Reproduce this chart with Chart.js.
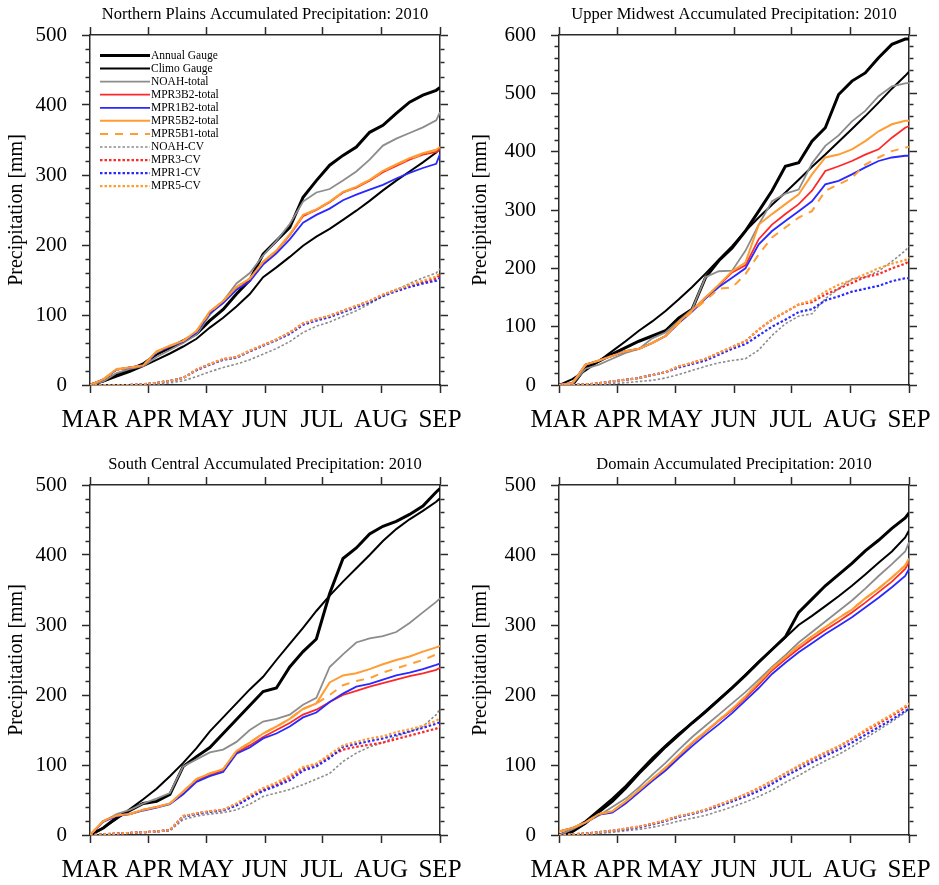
<!DOCTYPE html>
<html>
<head>
<meta charset="utf-8">
<script src="https://cdn.jsdelivr.net/npm/chart.js@4.4.0/dist/chart.umd.min.js"></script>
<style>
  body { margin: 0; background: #fff; width: 939px; height: 885px; position: relative; overflow: hidden; }
  canvas { position: absolute; }
</style>
</head>
<body>
<canvas id="np" width="469" height="435" style="left:0;top:0"></canvas>
<canvas id="um" width="469" height="435" style="left:469px;top:0"></canvas>
<canvas id="sc" width="469" height="435" style="left:0;top:450px"></canvas>
<canvas id="dm" width="469" height="435" style="left:469px;top:450px"></canvas>
<script>
// days since 1 March (weekly samples)
var days = [0, 7, 14, 21, 28, 35, 42, 49, 56, 63, 70, 77, 84, 91, 98, 105, 112, 119, 126, 133, 140, 147, 154, 161, 168, 175, 182, 184];
var monthDays = [0, 31, 61, 92, 122, 153, 184];
var monthLabels = ['MAR', 'APR', 'MAY', 'JUN', 'JUL', 'AUG', 'SEP'];
var seriesNames = ['Annual Gauge', 'Climo Gauge', 'NOAH-total', 'MPR3B2-total', 'MPR1B2-total', 'MPR5B2-total',
  'MPR5B1-total', 'NOAH-CV', 'MPR3-CV', 'MPR1-CV', 'MPR5-CV'];

// Northern Plains
var np_annual = [0, 6, 15, 22, 30, 44, 53, 63, 73, 92, 108, 130, 150, 187, 206, 225, 268, 292, 314, 328, 340, 361, 371, 388, 404, 414, 421, 425];
var np_climo = [0, 5, 12, 19, 27, 36, 45, 55, 66, 82, 96, 112, 130, 154, 168, 183, 199, 212, 223, 236, 249, 263, 278, 292, 305, 318, 332, 338];
var np_noah = [0, 5, 17, 23, 27, 40, 50, 60, 72, 100, 120, 145, 160, 185, 206, 230, 262, 275, 280, 292, 305, 322, 342, 352, 360, 368, 378, 390];
var np_mpr3b2 = [0, 8, 22, 25, 28, 47, 55, 62, 76, 104, 119, 139, 151, 175, 191, 214, 241, 250, 261, 275, 282, 292, 304, 313, 322, 329, 333, 337];
var np_mpr1b2 = [0, 8, 22, 25, 28, 46, 55, 62, 75, 102, 117, 136, 148, 172, 188, 208, 232, 243, 252, 264, 272, 279, 286, 295, 303, 310, 316, 330];
var np_mpr5b2 = [0, 8, 23, 25, 28, 48, 56, 63, 77, 105, 120, 140, 152, 176, 192, 215, 243, 251, 262, 276, 283, 293, 306, 315, 324, 331, 336, 340];
var np_mpr5b1 = [0, 8, 22, 25, 28, 47, 56, 63, 77, 104, 120, 140, 152, 176, 192, 214, 242, 251, 262, 275, 283, 293, 305, 315, 323, 330, 336, 339];
var np_noahcv = [0, 0, 0, 0, 0, 1, 3, 6, 12, 19, 25, 30, 36, 44, 52, 62, 75, 84, 90, 98, 106, 116, 127, 136, 145, 153, 160, 166];
var np_mpr3cv = [0, 0, 0, 0, 1, 3, 6, 10, 22, 30, 37, 40, 49, 57, 65, 75, 88, 94, 99, 106, 113, 120, 129, 136, 142, 147, 152, 158];
var np_mpr1cv = [0, 0, 0, 0, 1, 3, 6, 10, 21, 29, 36, 39, 48, 56, 64, 73, 86, 92, 97, 104, 111, 118, 127, 134, 140, 145, 149, 153];
var np_mpr5cv = [0, 0, 0, 0, 1, 3, 6, 10, 22, 30, 37, 40, 49, 57, 65, 75, 88, 94, 99, 106, 113, 120, 129, 136, 143, 149, 155, 160];

// Upper Midwest
var um_annual = [0, 0, 30, 41, 53, 64, 75, 84, 93, 115, 130, 184, 213, 235, 264, 298, 333, 375, 381, 418, 441, 498, 521, 535, 561, 584, 593, 593];
var um_climo = [0, 10, 25, 41, 58, 75, 93, 109, 127, 147, 168, 191, 215, 238, 264, 287, 309, 330, 352, 374, 395, 417, 439, 461, 484, 508, 530, 537];
var um_noah = [0, 2, 28, 35, 45, 55, 62, 80, 90, 110, 130, 185, 195, 196, 230, 275, 315, 328, 335, 380, 410, 428, 452, 470, 495, 512, 517, 518];
var um_mpr3b2 = [0, 3, 35, 42, 50, 58, 62, 72, 84, 108, 128, 150, 170, 193, 205, 250, 275, 293, 310, 333, 367, 375, 384, 395, 404, 424, 441, 444];
var um_mpr1b2 = [0, 3, 35, 42, 50, 58, 62, 72, 84, 106, 126, 148, 168, 184, 200, 241, 264, 281, 298, 315, 344, 350, 361, 373, 384, 390, 393, 393];
var um_mpr5b2 = [0, 3, 35, 42, 50, 58, 62, 72, 84, 108, 128, 150, 172, 195, 210, 275, 293, 310, 327, 361, 390, 395, 404, 418, 435, 447, 453, 453];
var um_mpr5b1 = [0, 3, 35, 42, 50, 58, 62, 72, 84, 106, 126, 145, 165, 167, 190, 224, 253, 270, 287, 298, 333, 344, 355, 378, 390, 401, 407, 408];
var um_noahcv = [0, 0, 0, 1, 2, 4, 6, 8, 12, 18, 25, 32, 38, 42, 45, 60, 85, 105, 118, 122, 148, 165, 182, 185, 195, 212, 230, 238];
var um_mpr3cv = [0, 0, 1, 3, 6, 9, 12, 17, 22, 32, 38, 45, 55, 65, 75, 95, 112, 125, 138, 142, 155, 165, 175, 185, 190, 200, 208, 212];
var um_mpr1cv = [0, 0, 1, 3, 6, 9, 12, 17, 22, 30, 36, 42, 52, 62, 70, 85, 100, 112, 125, 130, 145, 152, 160, 165, 170, 178, 183, 183];
var um_mpr5cv = [0, 0, 1, 3, 6, 9, 12, 17, 22, 32, 38, 45, 55, 65, 75, 95, 112, 125, 138, 145, 160, 172, 180, 190, 200, 208, 214, 218];

// South Central
var sc_annual = [0, 10, 25, 35, 45, 48, 58, 98, 112, 125, 145, 165, 185, 205, 210, 240, 262, 280, 345, 395, 410, 430, 441, 448, 458, 470, 490, 495];
var sc_climo = [0, 10, 23, 37, 51, 66, 84, 103, 124, 148, 168, 188, 208, 226, 250, 273, 296, 320, 342, 362, 381, 400, 420, 437, 451, 463, 476, 481];
var sc_noah = [0, 19, 30, 36, 45, 52, 60, 98, 108, 118, 122, 133, 150, 162, 166, 172, 186, 196, 240, 258, 275, 281, 284, 290, 303, 318, 333, 338];
var sc_mpr3b2 = [0, 20, 28, 30, 36, 40, 45, 60, 78, 86, 92, 118, 128, 140, 150, 160, 172, 179, 190, 200, 206, 212, 217, 222, 227, 231, 236, 239];
var sc_mpr1b2 = [0, 19, 27, 30, 35, 39, 44, 58, 76, 84, 90, 116, 125, 138, 145, 155, 168, 175, 190, 202, 212, 216, 222, 228, 232, 237, 243, 245];
var sc_mpr5b2 = [0, 20, 28, 30, 36, 40, 45, 62, 80, 88, 94, 120, 132, 145, 155, 166, 180, 188, 218, 228, 231, 237, 244, 250, 255, 262, 268, 270];
var sc_mpr5b1 = [0, 20, 28, 30, 36, 40, 45, 62, 80, 88, 94, 120, 132, 145, 155, 166, 180, 188, 200, 214, 220, 224, 232, 238, 244, 250, 258, 262];
var sc_noahcv = [0, 1, 2, 3, 4, 5, 6, 22, 27, 30, 32, 36, 44, 55, 60, 65, 72, 80, 88, 105, 117, 126, 132, 141, 147, 155, 172, 180];
var sc_mpr3cv = [0, 1, 2, 3, 4, 5, 7, 27, 31, 34, 36, 44, 55, 65, 72, 82, 95, 101, 112, 122, 126, 129, 132, 137, 142, 147, 152, 155];
var sc_mpr1cv = [0, 1, 2, 3, 4, 5, 7, 26, 30, 33, 35, 42, 53, 63, 70, 78, 92, 98, 110, 126, 130, 134, 138, 143, 148, 153, 159, 161];
var sc_mpr5cv = [0, 1, 2, 3, 4, 5, 7, 27, 31, 34, 36, 45, 57, 67, 75, 85, 97, 102, 115, 128, 133, 138, 141, 147, 151, 156, 163, 167];

// Domain
var dm_annual = [0, 5, 17, 33, 48, 67, 88, 107, 126, 143, 160, 176, 193, 210, 228, 247, 265, 283, 318, 337, 356, 372, 388, 406, 421, 438, 453, 460];
var dm_climo = [0, 8, 20, 36, 52, 70, 90, 110, 128, 145, 160, 177, 194, 211, 229, 247, 265, 282, 300, 313, 327, 341, 356, 372, 389, 405, 425, 435];
var dm_noah = [0, 8, 18, 28, 40, 52, 68, 86, 103, 122, 140, 156, 172, 188, 204, 222, 240, 257, 275, 290, 305, 320, 335, 352, 370, 387, 405, 418];
var dm_mpr3b2 = [5, 10, 18, 30, 33, 47, 63, 79, 95, 113, 131, 147, 163, 178, 196, 215, 235, 251, 266, 280, 293, 305, 318, 332, 347, 362, 380, 390];
var dm_mpr1b2 = [5, 10, 18, 29, 32, 45, 61, 77, 92, 110, 127, 143, 158, 174, 192, 210, 230, 246, 261, 274, 287, 299, 311, 325, 339, 354, 370, 380];
var dm_mpr5b2 = [5, 10, 18, 30, 34, 48, 64, 80, 96, 114, 132, 148, 164, 180, 198, 218, 238, 254, 270, 284, 297, 310, 322, 338, 352, 368, 385, 395];
var dm_mpr5b1 = [5, 10, 18, 30, 34, 48, 64, 80, 96, 114, 132, 148, 164, 180, 198, 218, 238, 254, 270, 284, 297, 310, 322, 338, 352, 368, 385, 395];
var dm_noahcv = [0, 0, 1, 2, 4, 6, 8, 11, 15, 20, 24, 28, 34, 40, 47, 55, 64, 75, 85, 96, 106, 115, 126, 138, 150, 162, 175, 182];
var dm_mpr3cv = [0, 1, 2, 4, 6, 9, 12, 16, 21, 27, 31, 36, 43, 50, 58, 67, 77, 88, 98, 108, 117, 126, 137, 148, 159, 170, 182, 186];
var dm_mpr1cv = [0, 1, 2, 4, 6, 8, 11, 15, 20, 26, 30, 35, 41, 48, 55, 63, 73, 84, 94, 104, 113, 122, 132, 143, 154, 165, 177, 180];
var dm_mpr5cv = [0, 1, 2, 4, 6, 9, 12, 16, 21, 27, 31, 36, 43, 50, 58, 67, 77, 88, 99, 109, 118, 127, 138, 150, 161, 172, 184, 188];

// line styles, same order as seriesNames
var lineColors = ['#000', '#000', '#8c8c8c', '#ff2828', '#2828ff', '#ff9c32', '#ff9c32', '#8c8c8c', '#ff2828', '#2828ff', '#ff9c32'];
var lineWidths = [3, 2, 1.8, 1.8, 1.8, 2, 2, 1.6, 2.2, 2.2, 2.2];
var lineDashes = [[], [], [], [], [], [], [8, 7], [2.5, 2], [2.5, 2], [2.5, 2], [2.5, 2]];

var SERIF = "'Liberation Serif', 'Times New Roman', serif";
var AXIS = '#2a2a2a';

function buildDatasets(values) {
  return values.map(function (vals, i) {
    return {
      label: seriesNames[i],
      data: days.map(function (d, j) { return { x: d, y: vals[j] }; }),
      borderColor: lineColors[i],
      borderWidth: lineWidths[i],
      borderDash: lineDashes[i],
      pointRadius: 0,
      fill: false,
      tension: 0,
      order: values.length - i
    };
  });
}

function monthTicks(scale) {
  scale.ticks = monthDays.map(function (v) { return { value: v }; });
}

function axisBorder() {
  return { display: true, color: AXIS, width: 1.5 };
}

// legend drawn inside the plot, top left (first panel only)
var legendBox = {
  id: 'legendBox',
  afterDraw: function (chart) {
    var ctx = chart.ctx, area = chart.chartArea;
    ctx.save();
    ctx.font = '11.5px ' + SERIF;
    ctx.textBaseline = 'middle';
    chart.data.datasets.forEach(function (ds, i) {
      var y = area.top + 20.5 + i * 13.07;
      ctx.strokeStyle = ds.borderColor;
      ctx.lineWidth = ds.borderWidth;
      ctx.setLineDash(ds.borderDash);
      ctx.beginPath();
      ctx.moveTo(area.left + 10, y);
      ctx.lineTo(area.left + 60, y);
      ctx.stroke();
      ctx.setLineDash([]);
      ctx.fillStyle = '#000';
      ctx.fillText(ds.label, area.left + 61, y);
    });
    ctx.restore();
  }
};

function makePanel(id, title, yMax, values, withLegend, titlePad) {
  var minorLeft = function (c) { return c.tick && c.tick.value % 100 ? [0, 3.5, 20] : []; };
  var minorRight = function (c) { return c.tick && c.tick.value % 100 ? [4, 20] : []; };
  return new Chart(document.getElementById(id), {
    type: 'line',
    data: { datasets: buildDatasets(values) },
    plugins: withLegend ? [legendBox] : [],
    options: {
      responsive: false,
      animation: false,
      layout: { padding: 0 },
      plugins: {
        legend: { display: false },
        tooltip: { enabled: false },
        title: {
          display: true, text: title, color: '#000', fullSize: false,
          font: { family: SERIF, size: 16.5, weight: 'normal' },
          padding: { top: 5, bottom: 2.2 }
        }
      },
      scales: {
        x: {
          type: 'linear', position: 'bottom', min: 0, max: 184,
          afterBuildTicks: monthTicks,
          afterFit: function (s) { s.height = 50; s.paddingLeft = 0; s.paddingRight = 0; },
          border: axisBorder(),
          grid: { drawOnChartArea: false, tickLength: 8, tickWidth: 1.5, tickColor: AXIS },
          ticks: {
            autoSkip: false, maxRotation: 0, minRotation: 0, padding: 12, color: '#000',
            font: { family: SERIF, size: 25 },
            callback: function (v) { return monthLabels[monthDays.indexOf(v)]; }
          }
        },
        xTop: {
          type: 'linear', position: 'top', min: 0, max: 184,
          afterBuildTicks: monthTicks,
          afterFit: function (s) { s.height = 8; s.paddingLeft = 0; s.paddingRight = 0; },
          border: axisBorder(),
          grid: { drawOnChartArea: false, tickLength: 8, tickWidth: 1.5, tickColor: AXIS },
          ticks: { display: false }
        },
        y: {
          type: 'linear', position: 'left', min: 0, max: yMax,
          afterFit: function (s) { s.width = 90; },
          border: axisBorder(),
          grid: { drawOnChartArea: false, tickLength: 8, tickWidth: 1.5, tickColor: AXIS, tickBorderDash: minorLeft },
          ticks: {
            stepSize: 20, autoSkip: false, padding: 15, color: '#000',
            font: { family: SERIF, size: 21 },
            callback: function (v) { return v % 100 === 0 ? String(v) : ''; }
          },
          title: {
            display: true, text: 'Precipitation [mm]', color: '#000',
            font: { family: SERIF, size: 20 },
            padding: { top: titlePad, bottom: 0 }
          }
        },
        yRight: {
          type: 'linear', position: 'right', min: 0, max: yMax,
          afterFit: function (s) { s.width = 29; },
          border: axisBorder(),
          grid: { drawOnChartArea: false, tickLength: 8, tickWidth: 1.5, tickColor: AXIS, tickBorderDash: minorRight },
          ticks: { stepSize: 20, autoSkip: false, display: false }
        }
      }
    }
  });
}

makePanel('np', 'Northern Plains Accumulated Precipitation: 2010', 500,
  [np_annual, np_climo, np_noah, np_mpr3b2, np_mpr1b2, np_mpr5b2, np_mpr5b1, np_noahcv, np_mpr3cv, np_mpr1cv, np_mpr5cv], true, 5);
makePanel('um', 'Upper Midwest Accumulated Precipitation: 2010', 600,
  [um_annual, um_climo, um_noah, um_mpr3b2, um_mpr1b2, um_mpr5b2, um_mpr5b1, um_noahcv, um_mpr3cv, um_mpr1cv, um_mpr5cv], false, 0);
makePanel('sc', 'South Central Accumulated Precipitation: 2010', 500,
  [sc_annual, sc_climo, sc_noah, sc_mpr3b2, sc_mpr1b2, sc_mpr5b2, sc_mpr5b1, sc_noahcv, sc_mpr3cv, sc_mpr1cv, sc_mpr5cv], false, 5);
makePanel('dm', 'Domain Accumulated Precipitation: 2010', 500,
  [dm_annual, dm_climo, dm_noah, dm_mpr3b2, dm_mpr1b2, dm_mpr5b2, dm_mpr5b1, dm_noahcv, dm_mpr3cv, dm_mpr1cv, dm_mpr5cv], false, 0);
</script>
</body>
</html>
